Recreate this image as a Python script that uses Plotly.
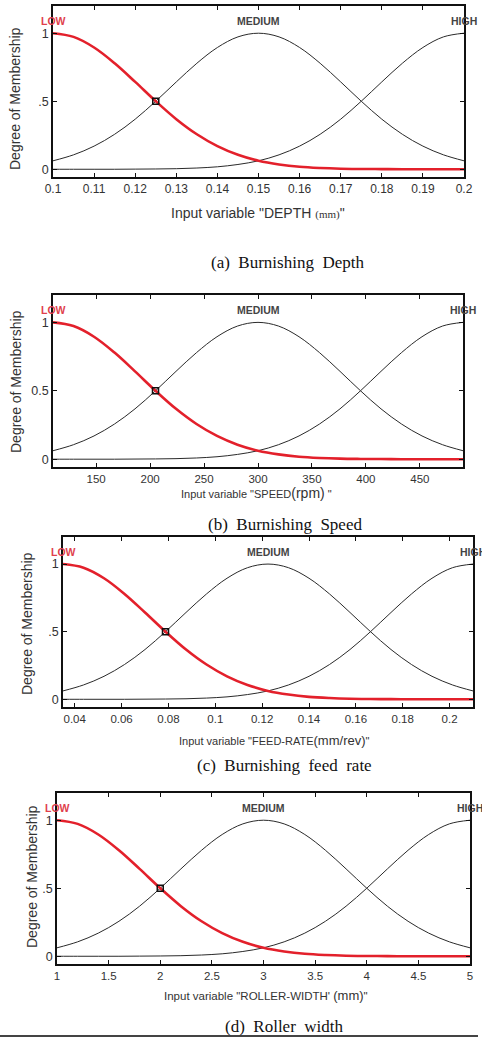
import plotly.graph_objects as go

# ---------------- data ----------------
depth_x = [0.1, 0.105, 0.11, 0.115, 0.12, 0.125, 0.13, 0.135, 0.14, 0.145, 0.15,
           0.155, 0.16, 0.165, 0.17, 0.175, 0.18, 0.185, 0.19, 0.195, 0.2]
speed_x = [110, 129, 148, 167, 186, 205, 224, 243, 262, 281, 300,
           319, 338, 357, 376, 395, 414, 433, 452, 471, 490]
feed_x = [0.035, 0.04375, 0.0525, 0.06125, 0.07, 0.07875, 0.0875, 0.09625, 0.105, 0.11375, 0.1225,
          0.13125, 0.14, 0.14875, 0.1575, 0.16625, 0.175, 0.18375, 0.1925, 0.20125, 0.21]
width_x = [1.0, 1.2, 1.4, 1.6, 1.8, 2.0, 2.2, 2.4, 2.6, 2.8, 3.0,
           3.2, 3.4, 3.6, 3.8, 4.0, 4.2, 4.4, 4.6, 4.8, 5.0]

low_mf = [1.000, 0.973, 0.895, 0.779, 0.642, 0.500, 0.368, 0.257, 0.170, 0.106, 0.062,
          0.035, 0.018, 0.009, 0.004, 0.002, 0.001, 0.000, 0.000, 0.000, 0.000]
medium_mf = [0.062, 0.106, 0.170, 0.257, 0.368, 0.500, 0.642, 0.779, 0.895, 0.973, 1.000,
             0.973, 0.895, 0.779, 0.642, 0.500, 0.368, 0.257, 0.170, 0.106, 0.062]
high_mf = [0.000, 0.000, 0.000, 0.000, 0.001, 0.002, 0.004, 0.009, 0.018, 0.035, 0.062,
           0.106, 0.170, 0.257, 0.368, 0.500, 0.642, 0.779, 0.895, 0.973, 1.000]

x_ranges = [[0.1, 0.2], [110, 490], [0.035, 0.21], [1, 5]]
cross_x = [0.125, 205, 0.07875, 2.0]
cross_y = [0.5, 0.5, 0.5, 0.5]

x_tickvals = [
    [0.1, 0.11, 0.12, 0.13, 0.14, 0.15, 0.16, 0.17, 0.18, 0.19, 0.2],
    [150, 200, 250, 300, 350, 400, 450],
    [0.04, 0.06, 0.08, 0.1, 0.12, 0.14, 0.16, 0.18, 0.2],
    [1, 1.5, 2, 2.5, 3, 3.5, 4, 4.5, 5],
]
x_ticktext = [
    ["0.1", "0.11", "0.12", "0.13", "0.14", "0.15", "0.16", "0.17", "0.18", "0.19", "0.2"],
    ["150", "200", "250", "300", "350", "400", "450"],
    ["0.04", "0.06", "0.08", "0.1", "0.12", "0.14", "0.16", "0.18", "0.2"],
    ["1", "1.5", "2", "2.5", "3", "3.5", "4", "4.5", "5"],
]
y_tickvals = [0, 0.5, 1]
y_ticktext = [["0", ".5", "1"], ["0", "0.5", "1"], ["0", ".5", "1"], ["0", ".5", "1"]]

mf_names = ["LOW", "MEDIUM", "HIGH"]
axis_titles = [
    'Input variable "DEPTH <span style="font-family:Liberation Serif;font-size:11px">(mm)</span>"',
    'Input variable "SPEED<span style="font-size:14px">(rpm)</span> "',
    'Input variable "FEED-RATE<span style="font-size:13px">(mm/rev)</span>"',
    'Input variable "ROLLER-WIDTH\' <span style="font-size:13px">(mm)</span>"',
]
captions = ["(a)  Burnishing  Depth", "(b)  Burnishing  Speed",
            "(c)  Burnishing  feed  rate", "(d)  Roller  width"]
y_title = "Degree of Membership"

# ---------------- layout geometry (pixels) ----------------
W, H = 482, 1038
boxes = [  # left, right, top, bottom
    (53, 464, 6, 177),
    (53, 463, 295, 467),
    (63, 473, 537, 707),
    (57, 470, 793, 964),
]
xtitle_pos = [(258, 213, 14), (256, 493, 11), (274, 740, 11), (266, 995, 11.5)]
ytitle_pos = [(15, 99, 14), (16, 382, 14), (27, 624, 14), (32, 877, 14)]
caption_pos = [(287, 262), (285, 524), (284, 765), (284, 1026)]
tick_sizes = [12, 11.5, 11.5, 11.5]
data_x = [depth_x, speed_x, feed_x, width_x]

def px(x):
    return x / W

def py(y):
    return 1 - y / H

fig = go.Figure()
layout = dict(width=W, height=H, autosize=False,
              margin=dict(l=0, r=0, t=0, b=0, autoexpand=False),
              paper_bgcolor="white", plot_bgcolor="white",
              showlegend=False, annotations=[], shapes=[])

FONT = "Liberation Sans, Arial, sans-serif"
for i in range(4):
    s = "" if i == 0 else str(i + 1)
    xa, ya = "x" + s, "y" + s
    xs = data_x[i]
    fig.add_trace(go.Scatter(x=xs, y=high_mf, mode="lines", line=dict(color="#2a2a2a", width=1, shape="spline"),
                             xaxis=xa, yaxis=ya))
    fig.add_trace(go.Scatter(x=xs, y=medium_mf, mode="lines", line=dict(color="#2a2a2a", width=1, shape="spline"),
                             xaxis=xa, yaxis=ya))
    fig.add_trace(go.Scatter(x=xs, y=low_mf, mode="lines", line=dict(color="#e3202b", width=2.6, shape="spline"),
                             xaxis=xa, yaxis=ya))
    fig.add_trace(go.Scatter(x=[cross_x[i]], y=[cross_y[i]], mode="markers",
                             marker=dict(symbol="square-open", size=6, color="#111", line=dict(width=1.5)),
                             xaxis=xa, yaxis=ya))
    l, r, t, b = boxes[i]
    layout["xaxis" + s] = dict(domain=[px(l), px(r)], range=x_ranges[i], anchor=ya, automargin=False,
                               tickmode="array", tickvals=x_tickvals[i], ticktext=x_ticktext[i],
                               ticks="inside", ticklen=4, tickwidth=1, tickcolor="#111",
                               showline=True, linecolor="#111", linewidth=1.5, mirror="ticks",
                               showgrid=False, zeroline=False,
                               tickfont=dict(family=FONT, size=tick_sizes[i], color="#333"))
    layout["yaxis" + s] = dict(domain=[py(b), py(t)], range=[-0.057, 1.2], anchor=xa, automargin=False,
                               tickmode="array", tickvals=y_tickvals, ticktext=y_ticktext[i],
                               ticks="inside", ticklen=4, tickwidth=1, tickcolor="#111",
                               showline=True, linecolor="#111", linewidth=1.5, mirror="ticks",
                               showgrid=False, zeroline=False,
                               tickfont=dict(family=FONT, size=12.5, color="#333"))
    # membership function labels
    xr = x_ranges[i]
    label_x = [xr[0], (xr[0] + xr[1]) / 2, xr[1]]
    for name, lx in zip(mf_names, label_x):
        layout["annotations"].append(dict(
            x=lx, y=1.09, xref=xa, yref=ya, text="<b>" + name + "</b>", showarrow=False,
            xanchor="center", yanchor="middle",
            font=dict(family=FONT, size=10.5, color="#e0404c" if name == "LOW" else "#444")))
    # x-axis title
    tx, ty, tsz = xtitle_pos[i]
    layout["annotations"].append(dict(
        x=px(tx), y=py(ty), xref="paper", yref="paper", text=axis_titles[i], showarrow=False,
        xanchor="center", yanchor="middle", font=dict(family=FONT, size=tsz, color="#333")))
    # y-axis title
    yx, yy, ysz = ytitle_pos[i]
    layout["annotations"].append(dict(
        x=px(yx), y=py(yy), xref="paper", yref="paper", text=y_title, showarrow=False,
        textangle=-90, xanchor="center", yanchor="middle",
        font=dict(family=FONT, size=ysz, color="#333")))
    # caption
    cx, cy = caption_pos[i]
    layout["annotations"].append(dict(
        x=px(cx), y=py(cy), xref="paper", yref="paper", text=captions[i], showarrow=False,
        xanchor="center", yanchor="middle",
        font=dict(family="Liberation Serif, Times New Roman, serif", size=17, color="#111")))

layout["shapes"].append(dict(type="line", xref="paper", yref="paper",
                             x0=0, x1=px(478), y0=py(1036), y1=py(1036),
                             line=dict(color="#444", width=2)))

fig.update_layout(**layout)
fig.write_html("out.html", config={"displayModeBar": False},
               post_script="document.body.style.margin='0';document.body.style.overflow='hidden';")
